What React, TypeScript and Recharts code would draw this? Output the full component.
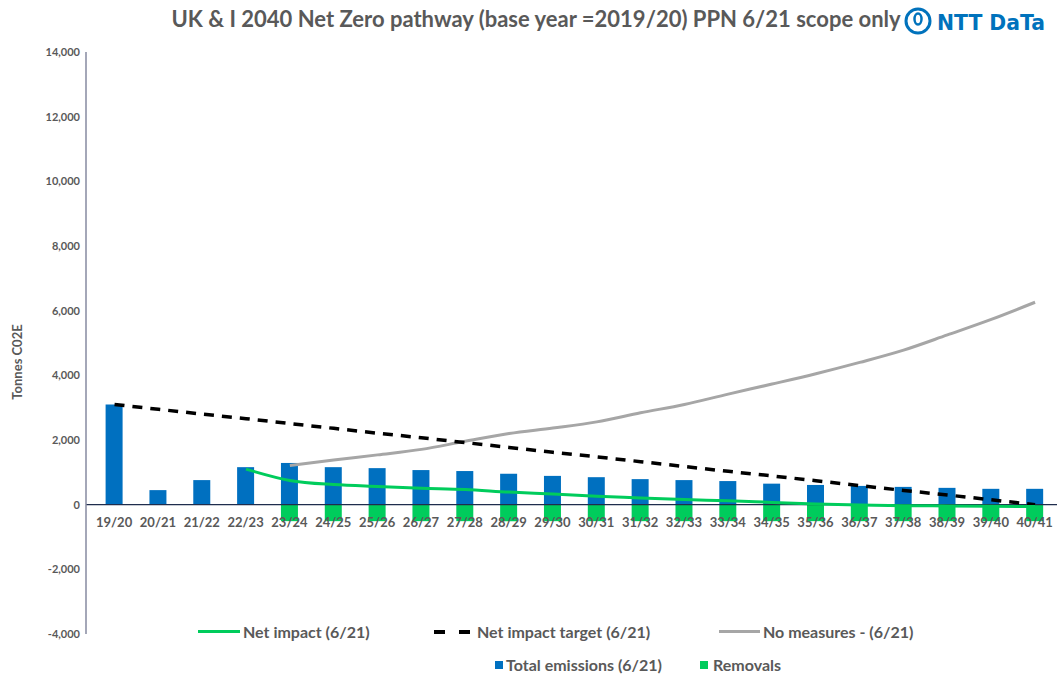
import React from "react";
import {
  ComposedChart,
  Bar,
  Line,
  XAxis,
  YAxis,
  ReferenceLine,
  LabelList,
} from "recharts";

// financial years on the category axis
const years = [
  "19/20", "20/21", "21/22", "22/23", "23/24", "24/25", "25/26", "26/27",
  "27/28", "28/29", "29/30", "30/31", "31/32", "32/33", "33/34", "34/35",
  "35/36", "36/37", "37/38", "38/39", "39/40", "40/41",
];

// tonnes CO2e
const totalEmissions = [
  3100, 450, 760, 1160, 1290, 1160, 1130, 1070, 1040, 960, 890, 850, 790, 760,
  730, 650, 610, 580, 550, 520, 490, 490,
];
const removals = [
  null, null, null, null, -510, -510, -510, -510, -510, -510, -510, -510, -510,
  -510, -510, -510, -510, -510, -510, -510, -510, -510,
];
const netImpact = [
  null, null, null, 1100, 750, 620, 560, 510, 470, 390, 330, 260, 210, 160,
  120, 70, 20, -10, -30, -40, -50, -60,
];
const netImpactTarget = [
  3100, 2950, 2800, 2660, 2510, 2360, 2210, 2070, 1920, 1770, 1620, 1480, 1330,
  1180, 1030, 890, 740, 590, 440, 300, 150, 0,
];
const noMeasures = [
  null, null, null, null, 1210, 1380, 1540, 1710, 1960, 2200, 2370, 2560, 2840,
  3100, 3420, 3730, 4050, 4400, 4780, 5250, 5730, 6260,
];

const yTicks = [-4000, -2000, 0, 2000, 4000, 6000, 8000, 10000, 12000, 14000];

const data = years.map((year, i) => ({
  year,
  total: totalEmissions[i],
  removals: removals[i],
  net: netImpact[i],
  target: netImpactTarget[i],
  noMeasures: noMeasures[i],
}));

const FONT = "Lato, 'Open Sans', sans-serif";
const GREY_TEXT = "#595959";
const BLUE = "#0070C0";
const GREEN = "#00CC5C";
const GREY_LINE = "#A6A6A6";

const fmt = (v: number) => (v === 0 ? "0" : v.toLocaleString("en-US"));

const legendText: React.CSSProperties = {
  position: "absolute",
  fontFamily: FONT,
  fontWeight: 700,
  fontSize: 16,
  color: GREY_TEXT,
  lineHeight: "18px",
  whiteSpace: "nowrap",
};

const App = () => {
  return (
    <div
      style={{
        position: "absolute",
        left: 0,
        top: 0,
        width: 1058,
        height: 675,
        background: "#fff",
      }}
    >
      <ComposedChart
        width={1058}
        height={675}
        data={data}
        stackOffset="sign"
        margin={{ top: 52, right: 1, bottom: 41, left: 26 }}
      >
        <XAxis dataKey="year" hide padding={{ left: 6.6, right: 0 }} />
        <YAxis
          domain={[-4000, 14000]}
          ticks={yTicks}
          width={60}
          tickFormatter={fmt}
          tickLine={false}
          tickSize={4}
          tickMargin={2}
          axisLine={{ stroke: "#868AA0", strokeWidth: 1.5 }}
          tick={{
            fill: GREY_TEXT,
            fontSize: 11,
            fontWeight: 700,
            fontFamily: FONT,
          }}
          interval={0}
        />
        <ReferenceLine y={0} stroke="#1F2D4D" strokeWidth={1.3} />
        <Bar
          dataKey="total"
          stackId="a"
          fill={BLUE}
          barSize={17}
          isAnimationActive={false}
        >
          <LabelList
            dataKey="year"
            position="bottom"
            offset={13}
            fill={GREY_TEXT}
            fontSize={13}
            fontWeight={700}
            fontFamily={FONT}
          />
        </Bar>
        <Bar
          dataKey="removals"
          stackId="a"
          fill={GREEN}
          barSize={17}
          isAnimationActive={false}
        />
        <Line
          dataKey="noMeasures"
          type="monotone"
          stroke={GREY_LINE}
          strokeWidth={3}
          dot={false}
          isAnimationActive={false}
        />
        <Line
          dataKey="target"
          type="linear"
          stroke="#000"
          strokeWidth={3.5}
          strokeDasharray="10 8"
          dot={false}
          isAnimationActive={false}
        />
        <Line
          dataKey="net"
          type="monotone"
          stroke={GREEN}
          strokeWidth={3}
          dot={false}
          isAnimationActive={false}
        />
      </ComposedChart>

      {/* title, logo and y axis caption */}
      <svg
        width={1058}
        height={675}
        style={{ position: "absolute", left: 0, top: 0, pointerEvents: "none" }}
      >
        <text
          x={536}
          y={27}
          textAnchor="middle"
          fontFamily={FONT}
          fontWeight={700}
          fontSize={22}
          fill={GREY_TEXT}
        >
          UK &amp; I 2040 Net Zero pathway (base year =2019/20) PPN 6/21 scope only
        </text>
        <circle cx={918} cy={21} r={12} fill="none" stroke="#0072BC" strokeWidth={3} />
        <ellipse cx={918} cy={19} rx={3.5} ry={5.5} fill="none" stroke="#0072BC" strokeWidth={2.5} />
        <text
          x={937}
          y={30}
          fontFamily="'DejaVu Sans', sans-serif"
          fontWeight={700}
          fontSize={22}
          fill="#0072BC"
          textLength={108}
          lengthAdjust="spacingAndGlyphs"
        >
          NTT DaTa
        </text>
        <text
          x={22}
          y={362}
          transform="rotate(-90 22 362)"
          textAnchor="middle"
          fontFamily={FONT}
          fontWeight={700}
          fontSize={13}
          fill={GREY_TEXT}
        >
          Tonnes C02E
        </text>
      </svg>

      {/* legend */}
      <div style={{ position: "absolute", left: 198, top: 630, width: 42, height: 3, background: GREEN }} />
      <div style={{ ...legendText, left: 243, top: 623 }}>Net impact (6/21)</div>
      <div style={{ position: "absolute", left: 434, top: 630, width: 11, height: 3.5, background: "#000" }} />
      <div style={{ position: "absolute", left: 459, top: 630, width: 11, height: 3.5, background: "#000" }} />
      <div style={{ ...legendText, left: 477, top: 623 }}>Net impact target (6/21)</div>
      <div style={{ position: "absolute", left: 719, top: 630, width: 41, height: 3, background: GREY_LINE }} />
      <div style={{ ...legendText, left: 763, top: 623 }}>No measures - (6/21)</div>
      <div style={{ position: "absolute", left: 495, top: 661, width: 8, height: 8, background: BLUE }} />
      <div style={{ ...legendText, left: 506, top: 656 }}>Total emissions (6/21)</div>
      <div style={{ position: "absolute", left: 700, top: 661, width: 8, height: 8, background: GREEN }} />
      <div style={{ ...legendText, left: 713, top: 656 }}>Removals</div>
    </div>
  );
};

export default App;
